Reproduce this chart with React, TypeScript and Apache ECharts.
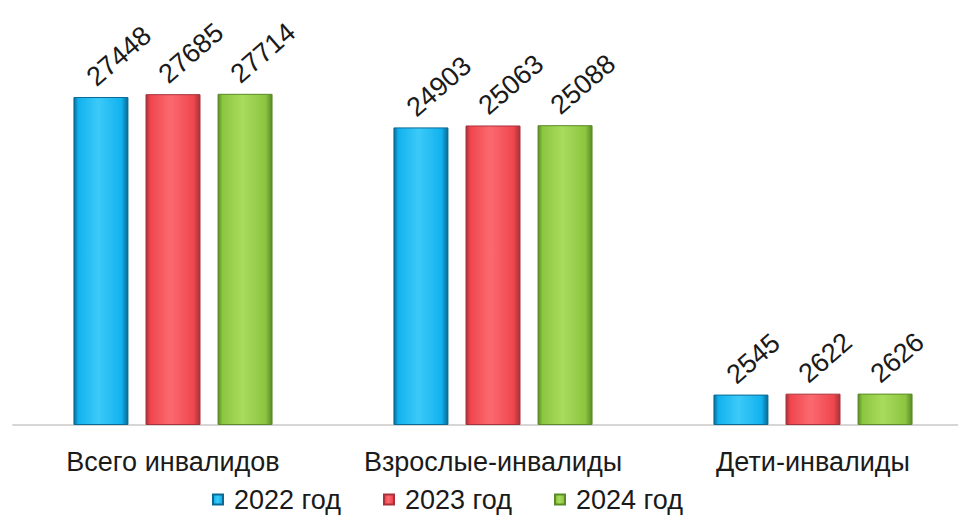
import React, { useEffect, useRef } from "react";
import * as echarts from "echarts";

const categories = ["Всего инвалидов", "Взрослые-инвалиды", "Дети-инвалиды"];
const seriesNames = ["2022 год", "2023 год", "2024 год"];
const values2022 = [27448, 24903, 2545];
const values2023 = [27685, 25063, 2622];
const values2024 = [27714, 25088, 2626];
const seriesValues = [values2022, values2023, values2024];

const palette = [
  { edge: "#0a6a94", main: "#12b2ee", light: "#3ccaf8" },
  { edge: "#a8323a", main: "#f0464e", light: "#fb6a70" },
  { edge: "#5a8b26", main: "#8cc540", light: "#a8dc5c" },
];

const FONT = "'Liberation Sans', Arial, sans-serif";

function barColor(p: { edge: string; main: string; light: string }) {
  return new echarts.graphic.LinearGradient(0, 0, 1, 0, [
    { offset: 0, color: p.edge },
    { offset: 0.08, color: p.main },
    { offset: 0.45, color: p.light },
    { offset: 0.88, color: p.main },
    { offset: 1, color: p.edge },
  ]);
}

export default function App() {
  const ref = useRef<HTMLDivElement>(null);
  useEffect(() => {
    if (!ref.current) return;
    const chart = echarts.init(ref.current, undefined, { renderer: "svg" });
    chart.setOption({
      animation: false,
      backgroundColor: "#ffffff",
      grid: { left: 13, width: 960, top: 66.5, height: 358.5 },
      legend: {
        data: seriesNames,
        left: 207,
        top: 481,
        icon: "rect",
        itemWidth: 10,
        itemHeight: 10,
        itemGap: 42,
        textStyle: { fontFamily: FONT, fontSize: 27, color: "#1a1a1a", padding: [0, 0, 0, 6] },
      },
      xAxis: {
        type: "category",
        data: categories,
        axisLine: { show: true, lineStyle: { color: "#d6d6d6", width: 2 } },
        axisTick: { show: false },
        axisLabel: { interval: 0, fontFamily: FONT, fontSize: 27, color: "#1a1a1a", margin: 23 },
      },
      yAxis: {
        type: "value",
        min: 0,
        max: 30000,
        show: false,
        splitLine: { show: false },
      },
      series: seriesNames.map((name, i) => ({
        name,
        type: "bar",
        data: seriesValues[i],
        barWidth: 55,
        barGap: "31%",
        itemStyle: {
          color: barColor(palette[i]),
          borderColor: palette[i].edge,
          borderWidth: 1,
        },
        label: {
          show: true,
          position: [26, -6],
          rotate: 41,
          align: "left",
          verticalAlign: "bottom",
          fontFamily: FONT,
          fontSize: 27,
          color: "#1a1a1a",
        },
      })),
    });
    return () => chart.dispose();
  }, []);
  return (
    <div
      ref={ref}
      style={{ position: "fixed", left: 0, top: 0, width: 990, height: 520 }}
    />
  );
}
